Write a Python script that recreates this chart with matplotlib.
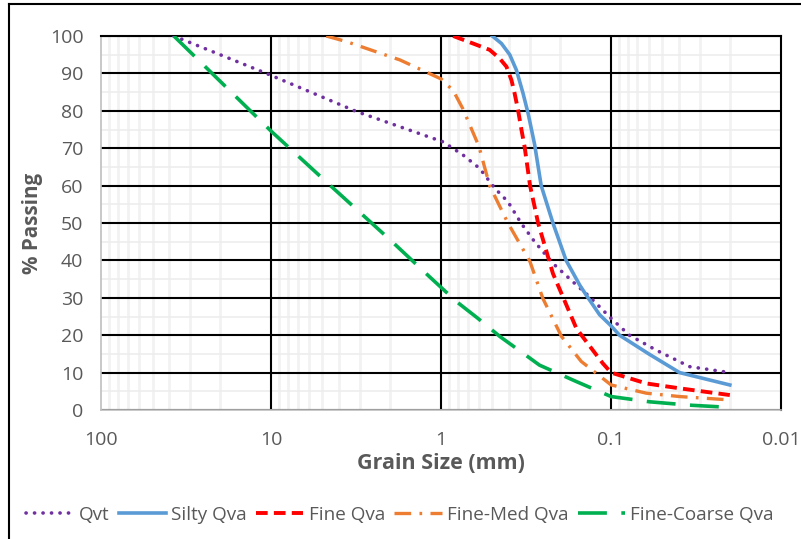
import matplotlib.pyplot as plt
from matplotlib.lines import Line2D
from matplotlib.ticker import LogLocator, FixedLocator, NullFormatter

# grain size (mm) / percent passing for each unit
qvt_size = [37.5, 13.4, 10.2, 3.15, 0.976, 0.745, 0.594, 0.484, 0.405, 0.338,
            0.282, 0.22, 0.168, 0.134, 0.1, 0.078, 0.0542, 0.0345, 0.02]
qvt_pass = [100, 91.8, 89.6, 79.8, 71.7, 68.2, 64.6, 59.3, 55.7, 49.9,
            45, 39.2, 34.3, 30.3, 24.5, 20, 16, 11.6, 10]

silty_size = [0.5, 0.442, 0.395, 0.361, 0.33, 0.308, 0.282, 0.258, 0.22,
              0.184, 0.153, 0.14, 0.117, 0.1, 0.0892, 0.06, 0.0395, 0.02]
silty_pass = [100, 98, 95, 90.9, 84.7, 79.3, 71, 60, 50, 40, 33.4, 30.7,
              25.5, 22.5, 20, 15, 10, 6.7]

fine_size = [0.85, 0.65, 0.519, 0.453, 0.413, 0.386, 0.37, 0.353, 0.337,
             0.323, 0.3, 0.269, 0.22, 0.2, 0.16, 0.14, 0.112, 0.1, 0.062,
             0.0395, 0.02]
fine_pass = [100, 98, 96.3, 94, 91.8, 88.2, 84.7, 80.2, 74.9, 70.4, 60, 50,
             36.5, 32.1, 21.8, 18.3, 12.5, 10, 7.1, 5.8, 4]

finemed_size = [4.75, 3.61, 1.75, 1.0, 0.85, 0.745, 0.6, 0.519, 0.405, 0.301,
                0.252, 0.196, 0.15, 0.1, 0.062, 0.0395, 0.02]
finemed_pass = [100, 98.5, 93.6, 88.5, 85.4, 80.5, 70.5, 60, 50, 39.8, 29.8,
                19.7, 13, 6.7, 4.5, 3.6, 2.7]

finecoarse_size = [37.5, 10, 4.75, 2.0, 1.17, 0.814, 0.608, 0.45, 0.33,
                   0.264, 0.16, 0.1, 0.0594, 0.0345, 0.02]
finecoarse_pass = [100, 74.5, 61, 45.5, 35.6, 29, 24.5, 19.6, 15.2,
                   12, 7.6, 3.6, 2.2, 1.3, 0.7]

plt.rcParams['font.family'] = ['Open Sans', 'DejaVu Sans']
grey = '#595959'

fig = plt.figure(figsize=(8.01, 5.39), dpi=100)
ax = fig.add_axes([0.1267, 0.2393, 0.975 - 0.1267, 0.9332 - 0.2393])

ax.set_xscale('log')
ax.set_xlim(100, 0.01)
ax.set_ylim(0, 100)

# grid: light minor verticals laid over black major horizontals
ax.xaxis.set_minor_locator(LogLocator(base=10, subs=range(2, 10)))
ax.xaxis.set_minor_formatter(NullFormatter())
ax.yaxis.set_major_locator(FixedLocator(range(0, 101, 10)))
ax.yaxis.set_minor_locator(FixedLocator(range(5, 100, 10)))
ax.grid(which='major', axis='y', color='black', lw=1.5, zorder=1)
ax.grid(which='minor', axis='y', color='#EDEDED', lw=1.2, zorder=0.5)
ax.grid(which='minor', axis='x', color='#F2F2F2', lw=2.0, zorder=1.5)
ax.set_axisbelow(True)
for xv in [10, 1, 0.1]:
    ax.axvline(xv, color='black', lw=1.5, zorder=1.8)

ax.plot(qvt_size, qvt_pass, color='#7030A0', lw=2.6,
        linestyle=(0, (0.05, 2.3)), dash_capstyle='round', label='Qvt', zorder=3)
ax.plot(silty_size, silty_pass, color='#5B9BD5', lw=2.6,
        label='Silty Qva', zorder=3)
ax.plot(fine_size, fine_pass, color='#FF0000', lw=2.8,
        linestyle=(0, (3, 1.6)), label='Fine Qva', zorder=3)
ax.plot(finemed_size, finemed_pass, color='#ED7D31', lw=2.4,
        linestyle=(0, (5, 2.5, 0.8, 2.5)), label='Fine-Med Qva', zorder=3)
ax.plot(finecoarse_size, finecoarse_pass, color='#00B050', lw=2.6,
        linestyle=(0, (8, 4)), label='Fine-Coarse Qva', zorder=3)

for side in ['top', 'right']:
    ax.spines[side].set_color('black')
    ax.spines[side].set_linewidth(1.5)
for side in ['left', 'bottom']:
    ax.spines[side].set_color('#BFBFBF')
    ax.spines[side].set_linewidth(1.2)

ax.set_xticks([100, 10, 1, 0.1, 0.01])
ax.set_xticklabels(['100', '10', '1', '0.1', '0.01'])
ax.tick_params(which='both', length=0, labelsize=14, labelcolor=grey)
ax.tick_params(axis='x', pad=15)
ax.tick_params(axis='y', pad=13)

ax.set_xlabel('Grain Size (mm)', fontsize=15.5, fontweight='bold', color=grey,
              labelpad=3)
ax.set_ylabel('% Passing', fontsize=14.8, fontweight='bold', color=grey,
              labelpad=5)

fig.legend(loc='center left', bbox_to_anchor=(26 / 801, 24 / 539), ncol=5,
           frameon=False, fontsize=13.6, handlelength=2.5, handletextpad=0.28,
           columnspacing=0.5, labelcolor=grey, borderpad=0, borderaxespad=0)

# outer chart border
fig.add_artist(Line2D([9 / 801, 9 / 801], [0, 1 - 4 / 539],
                      transform=fig.transFigure, color='black', lw=1.5))
fig.add_artist(Line2D([9 / 801, 1], [1 - 4 / 539, 1 - 4 / 539],
                      transform=fig.transFigure, color='black', lw=1.5))

fig.savefig('out.png', dpi=100)
